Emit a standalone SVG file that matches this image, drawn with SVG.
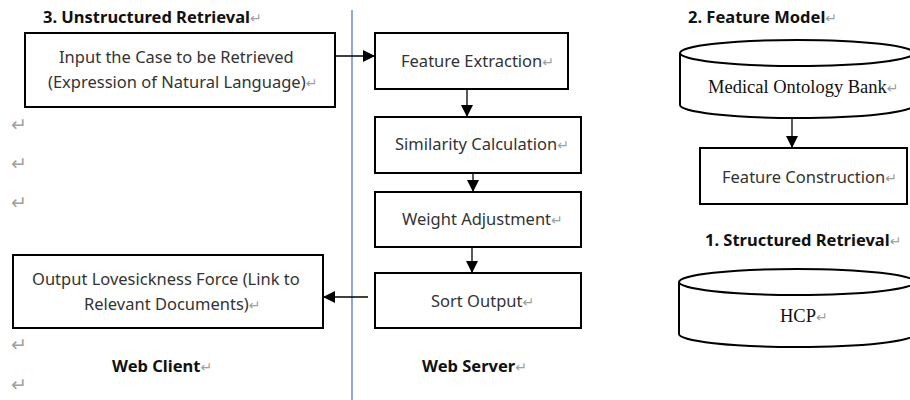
<svg xmlns="http://www.w3.org/2000/svg" width="910" height="400" viewBox="0 0 910 400">
  <style>
    .box { fill: #ffffff; stroke: #000000; stroke-width: 2; }
    .cyl { fill: #ffffff; stroke: #000000; stroke-width: 2; }
    .lbl { font-family: "Noto Sans", "Open Sans", sans-serif; font-size: 16.5px; fill: #333333; }
    .serif { font-family: "Liberation Serif", "Times New Roman", serif; font-size: 18.5px; fill: #111111; }
    .title { font-family: "Noto Sans", "Open Sans", sans-serif; font-size: 16.5px; font-weight: bold; fill: #111111; }
    .mark { font-family: "DejaVu Sans", sans-serif; font-size: 14px; font-weight: normal; fill: #a0a0a0; }
    .mark.big { font-size: 19px; }
    .edge { fill: none; stroke: #000000; stroke-width: 1.3; }
    .lane { stroke: #4472c4; stroke-width: 1.2; }
  </style>
  <defs>
    <marker id="arrow" viewBox="0 0 12 12" refX="12" refY="6" markerWidth="12" markerHeight="12" markerUnits="userSpaceOnUse" orient="auto">
      <path d="M0,0 L12,6 L0,12 Z" fill="#000000"/>
    </marker>
  </defs>

  <rect width="910" height="400" fill="#ffffff"/>

  <!-- lane divider between client and server -->
  <line class="lane" x1="352" y1="10" x2="352" y2="400"/>

  <!-- section titles -->
  <text class="title" x="43" y="23">3. Unstructured Retrieval<tspan class="mark">↵</tspan></text>
  <text class="title" x="688" y="23">2. Feature Model<tspan class="mark">↵</tspan></text>
  <text class="title" x="705" y="246">1. Structured Retrieval<tspan class="mark">↵</tspan></text>
  <text class="title" x="112" y="372">Web Client<tspan class="mark">↵</tspan></text>
  <text class="title" x="422" y="372">Web Server<tspan class="mark">↵</tspan></text>

  <!-- empty paragraph marks -->
  <g class="marks">
    <text class="mark big" x="11" y="131">↵</text>
    <text class="mark big" x="11" y="170">↵</text>
    <text class="mark big" x="11" y="209">↵</text>
    <text class="mark big" x="11" y="351">↵</text>
    <text class="mark big" x="11" y="391">↵</text>
  </g>

  <g id="input-case">
    <rect class="box" x="25" y="33" width="310" height="74"/>
    <text class="lbl" x="59" y="63">Input the Case to be Retrieved</text>
    <text class="lbl" x="48" y="88">(Expression of Natural Language)<tspan class="mark">↵</tspan></text>
  </g>

  <g id="output-links">
    <rect class="box" x="13" y="255" width="310" height="73"/>
    <text class="lbl" x="32" y="285">Output Lovesickness Force (Link to</text>
    <text class="lbl" x="84" y="310">Relevant Documents)<tspan class="mark">↵</tspan></text>
  </g>

  <g id="feature-extraction">
    <rect class="box" x="375" y="33" width="193" height="56"/>
    <text class="lbl" x="401" y="67">Feature Extraction<tspan class="mark">↵</tspan></text>
  </g>

  <g id="similarity-calculation">
    <rect class="box" x="375" y="117" width="206" height="56"/>
    <text class="lbl" x="395" y="150">Similarity Calculation<tspan class="mark">↵</tspan></text>
  </g>

  <g id="weight-adjustment">
    <rect class="box" x="375" y="192" width="206" height="55"/>
    <text class="lbl" x="402" y="225">Weight Adjustment<tspan class="mark">↵</tspan></text>
  </g>

  <g id="sort-output">
    <rect class="box" x="375" y="273" width="206" height="55"/>
    <text class="lbl" x="431" y="307">Sort Output<tspan class="mark">↵</tspan></text>
  </g>

  <g id="ontology-bank">
    <path class="cyl" d="M680,53 L680,105 A117,13 0 0 0 914,105 L914,53"/>
    <ellipse class="cyl" cx="797" cy="53" rx="117" ry="13"/>
    <text class="serif" x="708" y="93">Medical Ontology Bank<tspan class="mark">↵</tspan></text>
  </g>

  <g id="feature-construction">
    <rect class="box" x="700" y="148" width="207" height="56"/>
    <text class="lbl" x="722" y="183">Feature Construction<tspan class="mark">↵</tspan></text>
  </g>

  <g id="hcp">
    <path class="cyl" d="M679,282 L679,334 A118,13 0 0 0 915,334 L915,282"/>
    <ellipse class="cyl" cx="797" cy="282" rx="118" ry="13"/>
    <text class="serif" x="780" y="322">HCP<tspan class="mark">↵</tspan></text>
  </g>

  <g id="connectors">
    <line class="edge" x1="335" y1="56" x2="375" y2="56" marker-end="url(#arrow)"/>
    <line class="edge" x1="467" y1="89" x2="467" y2="117" marker-end="url(#arrow)"/>
    <line class="edge" x1="473" y1="173" x2="473" y2="192" marker-end="url(#arrow)"/>
    <line class="edge" x1="472" y1="247" x2="472" y2="273" marker-end="url(#arrow)"/>
    <line class="edge" x1="368" y1="297" x2="323" y2="297" marker-end="url(#arrow)"/>
    <line class="edge" x1="792" y1="118" x2="792" y2="148" marker-end="url(#arrow)"/>
  </g>
</svg>
